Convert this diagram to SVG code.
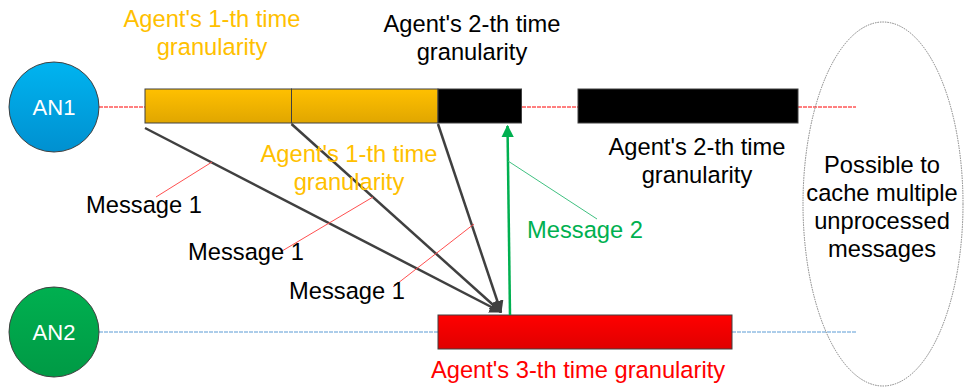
<svg xmlns="http://www.w3.org/2000/svg" width="964" height="387" viewBox="0 0 964 387">
<style>
text{font-family:"Liberation Sans",Arial,sans-serif;font-size:23.7px;text-anchor:middle}
.yl{fill:#FFC000}.bk{fill:#000}.gr{fill:#00B050}.rd{fill:#FF0000}.wt{fill:#fff;font-size:22px}
.msg{stroke:#404040;stroke-width:2.5;fill:none;marker-end:url(#ah)}
.ptr{stroke:#FF5050;stroke-width:1;fill:none}
.tlr{stroke:#FF0000;stroke-width:1;stroke-dasharray:4,1;fill:none}
.tlb{stroke:#5B9BD5;stroke-width:1;stroke-dasharray:4,1;fill:none}
.bar{stroke:#404040;stroke-width:1}
</style>
<defs>
<linearGradient id="gy" x1="0" y1="0" x2="0" y2="1"><stop offset="0" stop-color="#FFC000"/><stop offset="1" stop-color="#E0A600"/></linearGradient>
<linearGradient id="gr" x1="0" y1="0" x2="0" y2="1"><stop offset="0" stop-color="#FF0000"/><stop offset="1" stop-color="#E00000"/></linearGradient>
<linearGradient id="gb" x1="0" y1="0" x2="0" y2="1"><stop offset="0" stop-color="#00B4F0"/><stop offset="1" stop-color="#0090D0"/></linearGradient>
<linearGradient id="gg" x1="0" y1="0" x2="0" y2="1"><stop offset="0" stop-color="#00B050"/><stop offset="1" stop-color="#009A45"/></linearGradient>
<marker id="ah" viewBox="0 0 10 10" refX="9" refY="5" markerWidth="5" markerHeight="5" orient="auto"><path d="M0,0 L10,5 L0,10 Z" fill="#404040"/></marker>
<marker id="ahg" viewBox="0 0 10 10" refX="9" refY="5" markerWidth="5" markerHeight="5" orient="auto"><path d="M0,0 L10,5 L0,10 Z" fill="#00B050"/></marker>
</defs>

<g id="timelines">
<line class="tlr" x1="99" y1="107" x2="145" y2="107"/>
<line class="tlr" x1="522" y1="107" x2="578" y2="107"/>
<line class="tlr" x1="798" y1="107" x2="856" y2="107"/>
<line class="tlb" x1="99" y1="332" x2="438" y2="332"/>
<line class="tlb" x1="732" y1="332" x2="856" y2="332"/>
</g>

<g id="AN1">
<circle cx="54" cy="107" r="45" fill="url(#gb)" stroke="#404040" stroke-width="1"/>
<text class="wt" x="54" y="115">AN1</text>
</g>
<g id="AN2">
<circle cx="54" cy="332" r="45" fill="url(#gg)" stroke="#404040" stroke-width="1"/>
<text class="wt" x="54" y="340">AN2</text>
</g>

<g id="yellow-bar">
<rect class="bar" x="145" y="89" width="146.5" height="34" fill="url(#gy)"/>
<rect class="bar" x="291.5" y="89" width="146.5" height="34" fill="url(#gy)"/>
</g>
<g id="black-bar-1"><rect class="bar" x="438" y="89" width="83.5" height="34" fill="#000"/></g>
<g id="black-bar-2"><rect class="bar" x="578" y="89" width="220" height="34" fill="#000"/></g>
<g id="red-bar"><rect class="bar" x="438" y="315" width="294" height="34" fill="url(#gr)"/></g>

<g id="cache-ellipse">
<ellipse cx="883" cy="204" rx="80" ry="182" fill="none" stroke="#808080" stroke-width="1" stroke-dasharray="1.5,1"/>
<text class="bk" x="882" y="173">Possible to</text>
<text class="bk" x="882" y="201">cache multiple</text>
<text class="bk" x="882" y="229">unprocessed</text>
<text class="bk" x="882" y="257">messages</text>
</g>

<g id="connectors">
<line class="msg" x1="145" y1="128" x2="501" y2="312"/>
<line class="msg" x1="291.5" y1="124" x2="501" y2="312"/>
<line class="msg" x1="438" y1="124" x2="501" y2="312"/>
<line x1="510" y1="315" x2="507.5" y2="126" stroke="#00B050" stroke-width="2.5" marker-end="url(#ahg)"/>
<line class="ptr" x1="156" y1="197" x2="212" y2="162"/>
<line class="ptr" x1="282" y1="251" x2="373" y2="197"/>
<line class="ptr" x1="393" y1="287" x2="474" y2="224"/>
<line x1="508" y1="161" x2="597" y2="219" stroke="#40C080" stroke-width="1"/>
</g>

<g id="labels">
<text class="yl" x="212" y="27">Agent's 1-th time</text>
<text class="yl" x="212" y="55">granularity</text>
<text class="bk" x="472" y="32">Agent's 2-th time</text>
<text class="bk" x="472" y="60">granularity</text>
<text class="yl" x="349" y="162">Agent's 1-th time</text>
<text class="yl" x="349" y="190">granularity</text>
<text class="bk" x="697" y="155">Agent's 2-th time</text>
<text class="bk" x="697" y="183">granularity</text>
<text class="bk" x="144" y="213">Message 1</text>
<text class="bk" x="246" y="260">Message 1</text>
<text class="bk" x="347" y="299">Message 1</text>
<text class="gr" x="585" y="238">Message 2</text>
<text class="rd" x="578" y="378">Agent's 3-th time granularity</text>
</g>
</svg>
